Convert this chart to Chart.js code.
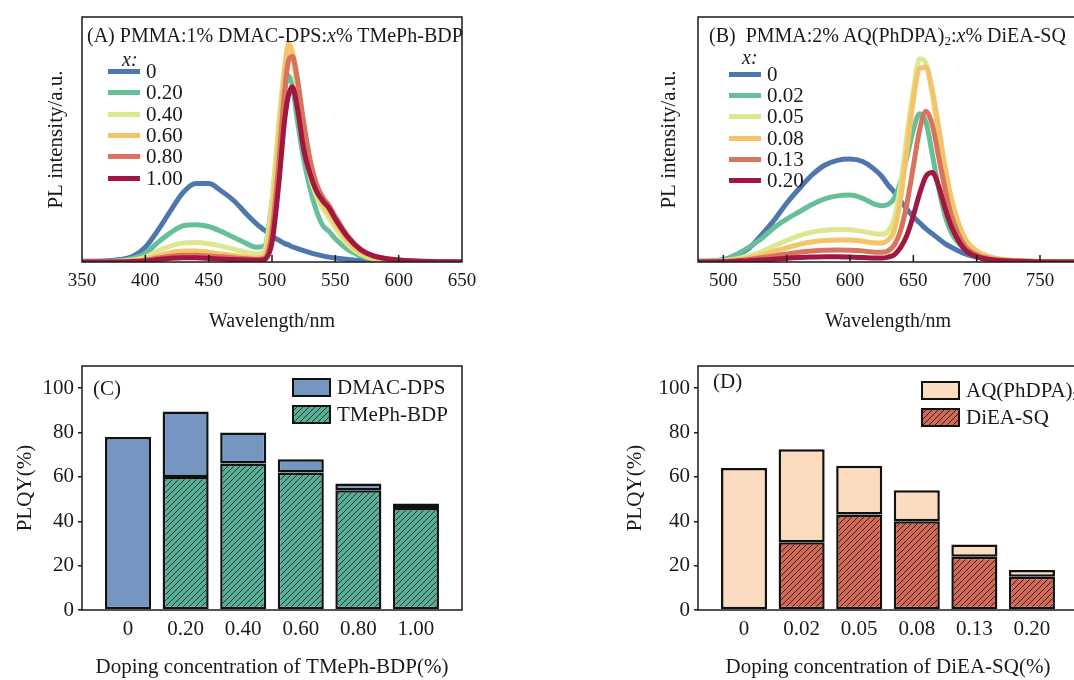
<!DOCTYPE html>
<html lang="en">
<head>
<meta charset="UTF-8">
<title>PL spectra and PLQY</title>
<script src="https://cdn.jsdelivr.net/npm/chart.js"></script>
<style>
    body {
        margin: 0;
        width: 1074px;
        height: 680px;
        overflow: hidden;
        position: relative;
        background: #fff;
        font-family: 'Liberation Serif', 'Times New Roman', serif;
        color: #1a1a1a;
    }
    canvas { position: absolute; }
    #chartA { left: 0; top: 0; }
    #chartB { left: 537px; top: 0; }
    #chartC { left: 0; top: 340px; }
    #chartD { left: 537px; top: 340px; }
    .txt { position: absolute; white-space: nowrap; line-height: 24px; }
    .title { font-size: 20px; }
    .xlab { font-size: 20px; font-style: italic; }
    .legend { position: absolute; font-size: 21px; }
    .legend .row { display: flex; align-items: center; height: 21.3px; }
    .legend .line { width: 32px; height: 5px; }
    .box-legend { position: absolute; font-size: 21px; }
    .box-legend .row { display: flex; align-items: center; height: 27px; }
    .box-legend .sw { width: 35px; height: 15px; border: 2px solid #111; margin-right: 6px; }
    sub { font-size: 13px; vertical-align: -3px; }
</style>
</head>
<body>
    <canvas id="chartA" width="537" height="340"></canvas>
    <canvas id="chartB" width="560" height="340"></canvas>
    <canvas id="chartC" width="537" height="340"></canvas>
    <canvas id="chartD" width="560" height="340"></canvas>

    <!-- panel titles -->
    <div class="txt title" style="left:87px; top:23px;">(A) PMMA:1% DMAC-DPS:<i>x</i>% TMePh-BDP</div>
    <div class="txt title" style="left:709px; top:23px;">(B)&nbsp; PMMA:2% AQ(PhDPA)<sub>2</sub>:<i>x</i>% DiEA-SQ</div>
    <div class="txt title" style="left:93px; top:376px; font-size:21px;">(C)</div>
    <div class="txt title" style="left:713px; top:369px; font-size:21px;">(D)</div>

    <!-- legends -->
    <div class="txt xlab" style="left:122px; top:47px;">x:</div>
    <div class="legend" id="legendA" style="left:108px; top:61px;"></div>
    <div class="txt xlab" style="left:742px; top:45px;">x:</div>
    <div class="legend" id="legendB" style="left:729px; top:63.5px;"></div>
    <div class="box-legend" id="legendC" style="left:292px; top:374px;"></div>
    <div class="box-legend" id="legendD" style="left:921px; top:377px;"></div>

<script>
    // ---- (A) PL spectra, PMMA:1% DMAC-DPS:x% TMePh-BDP ----
    const wavelengthA = [350, 370, 380, 390, 400, 410, 420, 430, 440, 450, 460, 470, 480, 488, 494, 500, 505,
        510, 513, 516, 520, 525, 530, 535, 540, 545, 550, 560, 570, 580, 600, 625, 650];
    const plA_0 = [0.3, 0.5, 1, 2.2, 6, 13, 21, 28.5, 32, 32, 29, 25, 19.5, 15.5, 13, 10.5, 9,
        7.5, 7, 6.2, 5.5, 4.6, 3.8, 3.1, 2.5, 2, 1.6, 1, 0.6, 0.3, 0.1, 0, 0];
    const plA_020 = [0, 0.3, 0.6, 1.5, 3.5, 8, 12, 14.8, 15.2, 14.5, 12.5, 10, 7.5, 6, 6.5, 25, 50,
        70, 76, 72, 58, 42, 30, 21, 15, 12.5, 9.5, 5, 2.5, 1, 0.3, 0, 0];
    const plA_040 = [0, 0.1, 0.3, 0.8, 2, 4.5, 6.5, 7.8, 8, 7.5, 6.5, 5.2, 4, 3.2, 4.5, 25, 55,
        80, 88, 84, 70, 50, 35, 27, 22, 18, 14, 7, 3.2, 1.4, 0.3, 0, 0];
    const plA_060 = [0, 0, 0.1, 0.4, 1, 2.5, 3.8, 4.5, 4.5, 4, 3.3, 2.7, 2, 1.6, 2.5, 18, 48,
        78, 89, 86, 73, 53, 38, 29, 24, 20, 16, 8.5, 4, 1.8, 0.4, 0.05, 0];
    const plA_080 = [0, 0, 0.1, 0.3, 0.7, 1.6, 2.4, 2.8, 2.8, 2.5, 2.1, 1.7, 1.3, 1, 1.5, 12, 38,
        70, 82, 84, 75, 57, 42, 32, 26.5, 23, 18.5, 10.5, 5.2, 2.5, 0.8, 0.1, 0];
    const plA_100 = [0, 0, 0.05, 0.2, 0.4, 1, 1.5, 1.7, 1.7, 1.5, 1.2, 1, 0.8, 0.7, 1, 8, 30,
        58, 68, 71.5, 63, 46, 36, 29, 25, 22, 17.5, 10, 5, 2.5, 0.8, 0.2, 0];
    const seriesLabelsA = ['0', '0.20', '0.40', '0.60', '0.80', '1.00'];
    const xTicksA = [350, 400, 450, 500, 550, 600, 650];

    // ---- (B) PL spectra, PMMA:2% AQ(PhDPA)2:x% DiEA-SQ ----
    const wavelengthB = [480, 500, 510, 520, 530, 540, 550, 560, 570, 580, 590, 600, 610, 620, 625, 630, 635,
        640, 645, 650, 655, 660, 665, 670, 675, 680, 690, 700, 710, 720, 740, 760, 780];
    const plB_0 = [0.3, 0.8, 2.8, 5.5, 11, 17, 24, 30, 35.5, 39.5, 41.5, 42, 41, 37.5, 35, 31.5, 28.5,
        25, 21.5, 18.5, 16, 13.5, 11.5, 9.5, 7.5, 6, 3.5, 2, 1.2, 0.7, 0.3, 0.1, 0];
    const plB_002 = [0.3, 1, 3, 6, 9.5, 14, 17.5, 20.5, 23.5, 25.8, 27, 27.3, 26, 23.5, 23, 23.5, 26,
        33, 43, 54, 60.5, 57, 44, 30, 19, 12, 5.5, 2.8, 1.5, 0.8, 0.3, 0.1, 0];
    const plB_005 = [0.2, 0.5, 1.2, 2.5, 4.2, 6.5, 8.8, 10.8, 12.2, 13, 13.3, 13.2, 12.5, 11.5, 11.3, 12.5, 18,
        32, 52, 70, 83, 81, 68, 51, 34, 21, 9, 3.8, 1.8, 0.9, 0.3, 0.1, 0];
    const plB_008 = [0.1, 0.3, 0.8, 1.6, 2.8, 4.3, 5.8, 7.2, 8.2, 8.8, 9, 9, 8.5, 7.8, 7.8, 9, 13,
        26, 46, 66, 79, 79.5, 70, 55, 39, 26, 10.5, 4.5, 2.2, 1.1, 0.4, 0.1, 0];
    const plB_013 = [0, 0.2, 0.5, 1, 1.7, 2.5, 3.3, 4, 4.5, 4.8, 4.9, 4.8, 4.5, 4, 4, 4.5, 7,
        13, 24, 39, 54, 61.5, 56, 43, 30, 19, 7, 3, 1.4, 0.7, 0.2, 0.1, 0];
    const plB_020 = [0, 0.1, 0.3, 0.5, 0.8, 1.1, 1.5, 1.8, 2, 2.1, 2.1, 2, 1.8, 1.6, 1.6, 2, 3,
        6, 11, 19, 28, 35, 36.5, 31, 22, 14.5, 5.5, 2.2, 1, 0.5, 0.2, 0, 0];
    const seriesLabelsB = ['0', '0.02', '0.05', '0.08', '0.13', '0.20'];
    const xTicksB = [500, 550, 600, 650, 700, 750];

    // ---- (C) PLQY, DMAC-DPS / TMePh-BDP ----
    const categoriesC = ['0', '0.20', '0.40', '0.60', '0.80', '1.00'];
    const tmephBdp = [null, 60, 66, 62, 54, 46];
    const dmacDps = [78, 29.5, 14, 6, 3, 2];

    // ---- (D) PLQY, AQ(PhDPA)2 / DiEA-SQ ----
    const categoriesD = ['0', '0.02', '0.05', '0.08', '0.13', '0.20'];
    const dieaSq = [null, 30.5, 43, 40, 24, 15];
    const aqPhdpa = [64, 42, 22, 14, 5.5, 3];

    const yTicksPlqy = [0, 20, 40, 60, 80, 100];
    const lineColors = ['#4d77ad', '#66bf98', '#dde78f', '#f4c46a', '#d8735d', '#a0173f'];

    Chart.defaults.font.family = "'Liberation Serif', 'Times New Roman', serif";
    Chart.defaults.color = '#1a1a1a';
    Chart.defaults.animation = false;
    Chart.defaults.plugins.legend.display = false;
    Chart.defaults.plugins.tooltip.enabled = false;

    // 플롯 테두리 + 안쪽 눈금
    const frame = {
        id: 'frame',
        afterDraw(chart, args, opts) {
            const { ctx, chartArea: a, scales } = chart;
            ctx.save();
            ctx.strokeStyle = '#1a1a1a';
            ctx.lineWidth = 1.5;
            ctx.strokeRect(a.left, a.top, a.right - a.left, a.bottom - a.top);
            if (opts.innerTicks) {
                scales.x.ticks.forEach(t => {
                    const px = scales.x.getPixelForValue(t.value);
                    if (px <= a.left + 2 || px >= a.right - 2) return;
                    ctx.beginPath();
                    ctx.moveTo(px, a.bottom);
                    ctx.lineTo(px, a.bottom - 7);
                    ctx.stroke();
                });
            }
            ctx.restore();
        }
    };

    function spectrumChart(id, wl, series, xTicks, xMin, xMax, yWidth, yTitlePad, rightPad) {
        return new Chart(document.getElementById(id), {
            type: 'line',
            data: {
                datasets: series.map((s, i) => ({
                    data: s.map((v, j) => ({ x: wl[j], y: v })),
                    borderColor: lineColors[i],
                    borderWidth: 5,
                    pointRadius: 0,
                    cubicInterpolationMode: 'monotone',
                    order: series.length - i
                }))
            },
            options: {
                responsive: false,
                layout: { padding: { top: 17, right: rightPad, bottom: 0, left: 0 } },
                scales: {
                    x: {
                        type: 'linear', min: xMin, max: xMax,
                        afterBuildTicks: s => { s.ticks = xTicks.map(v => ({ value: v })); },
                        afterFit: s => { s.height = 78; },
                        grid: { display: false, drawTicks: false },
                        border: { display: false },
                        ticks: { font: { size: 19 }, padding: 8, maxRotation: 0, autoSkip: false, callback: v => v },
                        title: { display: true, text: 'Wavelength/nm', font: { size: 20 }, padding: { bottom: 6 } }
                    },
                    y: {
                        min: 0, max: 100,
                        afterFit: s => { s.width = yWidth; },
                        grid: { display: false, drawTicks: false },
                        border: { display: false },
                        ticks: { display: false },
                        title: { display: true, text: 'PL intensity/a.u.', font: { size: 21 }, padding: { top: yTitlePad } }
                    }
                },
                plugins: { frame: { innerTicks: true } }
            },
            plugins: [frame]
        });
    }

    function hatch(bg, line) {
        const c = document.createElement('canvas');
        c.width = 6; c.height = 6;
        const g = c.getContext('2d');
        g.fillStyle = bg;
        g.fillRect(0, 0, 6, 6);
        g.strokeStyle = line;
        g.lineWidth = 1;
        g.beginPath();
        g.moveTo(0, 6); g.lineTo(6, 0);
        g.moveTo(-1, 1); g.lineTo(1, -1);
        g.moveTo(5, 7); g.lineTo(7, 5);
        g.stroke();
        return g.createPattern(c, 'repeat');
    }

    function plqyChart(id, cats, lower, upper, lowerFill, upperFill, xTitle, yWidth, yTitlePad, rightPad) {
        const barStyle = { borderColor: '#111', borderWidth: 2.5, borderSkipped: false, barPercentage: 0.8, categoryPercentage: 1 };
        return new Chart(document.getElementById(id), {
            type: 'bar',
            data: {
                datasets: [
                    Object.assign({ data: lower.map((v, i) => ({ x: i, y: v })), backgroundColor: lowerFill }, barStyle),
                    Object.assign({ data: upper.map((v, i) => ({ x: i, y: v })), backgroundColor: upperFill }, barStyle)
                ]
            },
            options: {
                responsive: false,
                layout: { padding: { top: 26, right: rightPad, bottom: 0, left: 0 } },
                scales: {
                    x: {
                        type: 'linear', min: -0.8, max: 5.8, stacked: true, offset: false,
                        afterBuildTicks: s => { s.ticks = cats.map((c, i) => ({ value: i })); },
                        afterFit: s => { s.height = 70; },
                        grid: { display: false, drawTicks: false },
                        border: { display: false },
                        ticks: { font: { size: 21 }, padding: 7, maxRotation: 0, autoSkip: false, callback: v => cats[v] },
                        title: { display: true, text: xTitle, font: { size: 21 }, padding: { bottom: 0 } }
                    },
                    y: {
                        min: 0, max: 110, stacked: true,
                        afterBuildTicks: s => { s.ticks = yTicksPlqy.map(v => ({ value: v })); },
                        afterFit: s => { s.width = yWidth; },
                        grid: { display: true, drawOnChartArea: false, drawTicks: true, tickLength: 4, color: '#1a1a1a', lineWidth: 1.5 },
                        border: { display: false },
                        ticks: { font: { size: 21 }, padding: 4 },
                        title: { display: true, text: 'PLQY(%)', font: { size: 21 }, padding: { top: yTitlePad } }
                    }
                },
                plugins: { frame: { innerTicks: false } }
            },
            plugins: [frame]
        });
    }

    spectrumChart('chartA', wavelengthA, [plA_0, plA_020, plA_040, plA_060, plA_080, plA_100], xTicksA, 350, 650, 82, 44, 75);
    spectrumChart('chartB', wavelengthB, [plB_0, plB_002, plB_005, plB_008, plB_013, plB_020], xTicksB, 480, 780, 161, 120, 19);

    plqyChart('chartC', categoriesC, tmephBdp, dmacDps, hatch('#5aae97', '#1c3a31'), '#7596c0',
        'Doping concentration of TMePh-BDP(%)', 82, 13, 75);
    plqyChart('chartD', categoriesD, dieaSq, aqPhdpa, hatch('#cd6b58', '#4a1a10'), '#fbdcc0',
        'Doping concentration of DiEA-SQ(%)', 161, 86, 19);

    // 범례
    function lineLegend(elId, labels) {
        const el = document.getElementById(elId);
        labels.forEach((lab, i) => {
            const row = document.createElement('div');
            row.className = 'row';
            row.innerHTML = `<div class="line" style="background:${lineColors[i]}"></div><span style="margin-left:6px">${lab}</span>`;
            el.appendChild(row);
        });
    }
    lineLegend('legendA', seriesLabelsA);
    lineLegend('legendB', seriesLabelsB);

    function boxLegend(elId, items) {
        const el = document.getElementById(elId);
        items.forEach(it => {
            const row = document.createElement('div');
            row.className = 'row';
            row.innerHTML = `<div class="sw" style="background:${it.fill}"></div><span>${it.text}</span>`;
            el.appendChild(row);
        });
    }
    const hatchCss = (bg, line) => `repeating-linear-gradient(-45deg, ${bg} 0 3.2px, ${line} 3.2px 4.2px)`;
    boxLegend('legendC', [
        { fill: '#7596c0', text: 'DMAC-DPS' },
        { fill: hatchCss('#5aae97', '#1c3a31'), text: 'TMePh-BDP' }
    ]);
    boxLegend('legendD', [
        { fill: '#fbdcc0', text: 'AQ(PhDPA)<sub>2</sub>' },
        { fill: hatchCss('#cd6b58', '#4a1a10'), text: 'DiEA-SQ' }
    ]);
</script>
</body>
</html>
